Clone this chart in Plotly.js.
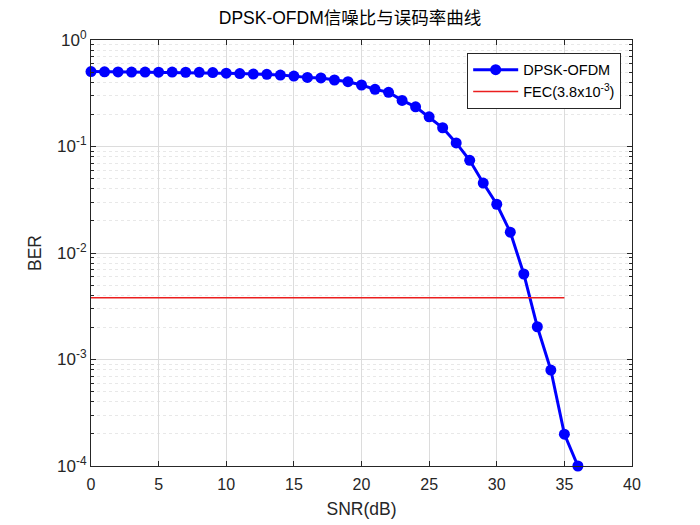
<!DOCTYPE html>
<html>
<head>
<meta charset="utf-8">
<script src="https://cdn.plot.ly/plotly-3.0.1.min.js"></script>
<style>html,body{margin:0;padding:0;background:#fff;}#chart{width:700px;height:525px;}</style>
</head>
<body>
<div id="chart"></div>
<script>
const snr = [0,1,2,3,4,5,6,7,8,9,10,11,12,13,14,15,16,17,18,19,20,21,22,23,24,25,26,27,28,29,30,31,32,33,34,35,36];
const ber = [0.505,0.503,0.502,0.500,0.500,0.499,0.500,0.498,0.497,0.495,0.488,0.484,0.479,0.476,0.468,0.458,0.445,0.440,0.421,0.406,0.378,0.344,0.323,0.271,0.236,0.190,0.150,0.108,0.0742,0.0454,0.0287,0.0157,0.00635,0.00203,0.000796,0.000199,0.0001];
const fecX = [0, 35];
const fecY = [3.8e-3, 3.8e-3];
const yTickVals = [1e-4, 1e-3, 1e-2, 1e-1, 1];
const yTickText = ['10<sup>-4</sup>','10<sup>-3</sup>','10<sup>-2</sup>','10<sup>-1</sup>','10<sup>0</sup>'];
const xTickVals = [0,5,10,15,20,25,30,35,40];

const font = 'Liberation Sans, Arial, Helvetica, sans-serif';
const axisColor = '#262626';

const traces = [
  {x: snr, y: ber, type: 'scatter', mode: 'lines+markers', name: 'DPSK-OFDM',
   line: {color: 'rgb(0,0,255)', width: 3}, marker: {color: 'rgb(0,0,255)', size: 11},
   cliponaxis: false},
  {x: fecX, y: fecY, type: 'scatter', mode: 'lines', name: 'FEC(3.8x10<sup>-3</sup>)',
   line: {color: 'rgb(235,30,30)', width: 1.5}}
];

const layout = {
  width: 700, height: 525,
  margin: {l: 91, r: 68, t: 40, b: 59},
  paper_bgcolor: '#fff', plot_bgcolor: '#fff',
  font: {family: font, size: 16, color: axisColor},
  title: {text: 'DPSK-OFDM信噪比与误码率曲线', font: {family: 'Liberation Sans, Noto Sans CJK SC, sans-serif', size: 17.5, color: '#000'}, x: 0.5, xanchor: 'center', y: 0.966, yanchor: 'middle'},
  showlegend: true,
  legend: {x: 0.98, y: 0.97, xanchor: 'right', yanchor: 'top', bgcolor: '#fff', bordercolor: axisColor, borderwidth: 1, font: {size: 14.5, color: '#000'}, tracegroupgap: 0, itemwidth: 45},
  xaxis: {
    range: [0, 40], tickvals: xTickVals, ticktext: xTickVals.map(String),
    ticks: 'inside', ticklen: 5, tickcolor: axisColor, tickfont: {size: 16, color: axisColor},
    ticklabelstandoff: 4,
    showline: true, linecolor: axisColor, linewidth: 1, mirror: 'ticks',
    showgrid: true, gridcolor: '#dcdcdc', gridwidth: 1, zeroline: false,
    title: {text: 'SNR(dB)', font: {size: 17.5, color: axisColor}, standoff: 10}
  },
  yaxis: {
    type: 'log', range: [-4, 0], tickmode: 'array', tickvals: yTickVals, ticktext: yTickText,
    ticks: 'inside', ticklen: 5, tickcolor: axisColor, tickfont: {size: 17, color: axisColor},
    showline: true, linecolor: axisColor, linewidth: 1, mirror: 'ticks',
    showgrid: true, gridcolor: '#dcdcdc', gridwidth: 1, zeroline: false,
    minor: {dtick: 'D1', showgrid: true, gridcolor: '#e8e8e8', griddash: 'dot', ticks: 'inside', ticklen: 3, tickcolor: axisColor},
    title: {text: 'BER', font: {size: 17.5, color: axisColor}, standoff: 10}
  }
};

Plotly.newPlot('chart', traces, layout, {staticPlot: true, displayModeBar: false});
</script>
</body>
</html>
